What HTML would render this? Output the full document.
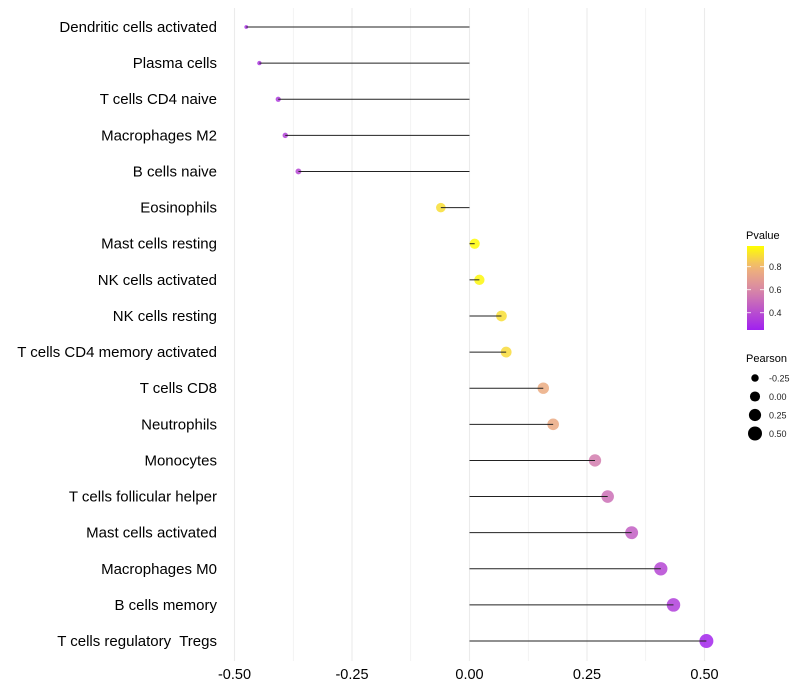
<!DOCTYPE html>
<html><head><meta charset="utf-8"><style>
body{margin:0;background:#fff;}
svg{display:block;font-family:"Liberation Sans",sans-serif;}
text{white-space:pre;}
</style></head><body>
<svg id="chart" width="800" height="700"></svg>
<script>
const categories=["Dendritic cells activated","Plasma cells","T cells CD4 naive","Macrophages M2","B cells naive","Eosinophils","Mast cells resting","NK cells activated","NK cells resting","T cells CD4 memory activated","T cells CD8","Neutrophils","Monocytes","T cells follicular helper","Mast cells activated","Macrophages M0","B cells memory","T cells regulatory  Tregs"];
const pearson=[-0.475,-0.447,-0.407,-0.392,-0.364,-0.061,0.011,0.021,0.068,0.078,0.157,0.178,0.267,0.294,0.345,0.407,0.434,0.504];
const pvalue=[0.30,0.32,0.34,0.36,0.38,0.90,0.97,0.96,0.90,0.89,0.76,0.75,0.56,0.52,0.46,0.38,0.35,0.27];
const xTicks=[-0.5,-0.25,0,0.25,0.5];
const xTickLabels=["-0.50","-0.25","0.00","0.25","0.50"];
const legendP=[0.8,0.6,0.4];
const legendPLabels=["0.8","0.6","0.4"];
const legendS=[-0.25,0,0.25,0.5];
const legendSLabels=["-0.25","0.00","0.25","0.50"];

const NS="http://www.w3.org/2000/svg";
const svg=document.getElementById('chart');
const x=v=>469.5+v*470;
const y=i=>27+i*36.12;
const pMin=0.25,pMax=0.98;
function col(p){
  const t=Math.max(0,Math.min(1,(p-pMin)/(pMax-pMin)));
  const stops=[[0,[160,32,240]],[0.48,[216,136,165]],[0.75,[240,180,120]],[1,[255,255,0]]];
  for(let k=1;k<stops.length;k++){if(t<=stops[k][0]){const a=stops[k-1],b=stops[k];const u=(t-a[0])/(b[0]-a[0]);return 'rgb('+a[1].map((c,j)=>Math.round(c+(b[1][j]-c)*u)).join(',')+')';}}
  return 'rgb(255,255,0)';
}
const rad=v=>Math.sqrt(3.5+(v+0.475)/0.979*45.5);
function el(t,a,parent){const e=document.createElementNS(NS,t);for(const k in a)e.setAttribute(k,a[k]);(parent||svg).appendChild(e);return e;}

const grid=el('g',{});


for(let v=-0.5;v<=0.5001;v+=0.125){
  const g=el('line',{x1:x(v),x2:x(v),y1:8,y2:661,stroke:'#ebebeb','stroke-width':Math.abs(v*4-Math.round(v*4))<0.01?1.1:0.6},grid);
  
  
}
xTicks.forEach((v,i)=>{
  const t=el('text',{x:x(v),y:679,'text-anchor':'middle','font-size':14.5,fill:'#000'});
  t.textContent=xTickLabels[i];
  
  
});
categories.forEach((c,i)=>{
  const t=el('text',{x:217,y:y(i)+5,'text-anchor':'end','font-size':15,fill:'#000'});
  t.textContent=c;
  
  
  const p=el('circle',{cx:x(pearson[i]),cy:y(i),r:rad(pearson[i]),fill:col(pvalue[i]),'fill-opacity':0.85});
  
  
  const s=el('line',{x1:x(0),x2:x(pearson[i]),y1:y(i),y2:y(i),stroke:'#222','stroke-width':1});
  
  
});
const lt=el('text',{x:746,y:239,'font-size':11,fill:'#000'});lt.textContent='Pvalue';


const defs=el('defs',{});
const lg=el('linearGradient',{id:'pg',x1:0,y1:1,x2:0,y2:0},defs);
for(let k=0;k<=10;k++){el('stop',{offset:k/10,'stop-color':col(pMin+(pMax-pMin)*k/10)},lg);}
const py=p=>330-(p-pMin)/(pMax-pMin)*84;
const bar=el('rect',{x:747,y:246,width:17,height:84,fill:'url(#pg)'});


legendP.forEach((p,i)=>{
  el('line',{x1:747,x2:751,y1:py(p),y2:py(p),stroke:'#fff','stroke-width':0.8});
  el('line',{x1:760,x2:764,y1:py(p),y2:py(p),stroke:'#fff','stroke-width':0.8});
  const t=el('text',{x:769,y:py(p)+3.5,'font-size':9,fill:'#222'});t.textContent=legendPLabels[i];
  
  
});
const st=el('text',{x:746,y:362,'font-size':11,fill:'#000'});st.textContent='Pearson';


legendS.forEach((v,i)=>{
  const cy=378+i*18.5;
  const c=el('circle',{cx:755,cy:cy,r:rad(v),fill:'#000'});
  
  
  const t=el('text',{x:769,y:cy+3.5,'font-size':9,fill:'#222'});t.textContent=legendSLabels[i];
  
  
});
</script>
</body></html>
